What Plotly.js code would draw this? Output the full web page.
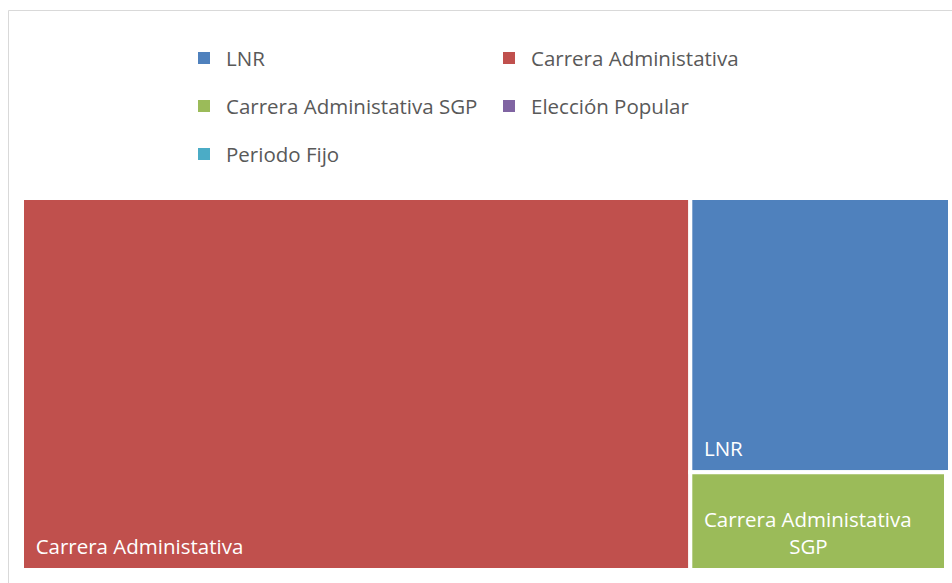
<!DOCTYPE html>
<html>
<head>
<meta charset="utf-8">
<script src="https://cdn.plot.ly/plotly-3.0.1.min.js"></script>
<style>html,body{margin:0;padding:0;background:#fff;}#chart{width:952px;height:583px;}</style>
</head>
<body>
<div id="chart"></div>
<script>
// Data (relative sizes of tiles)
const categories = ["LNR", "Carrera Administativa", "Carrera Administativa SGP", "Elección Popular", "Periodo Fijo"];
const values = [558, 1948, 196, 2, 1];
const colors = ["#4F81BD", "#C0504D", "#9BBB59", "#8064A2", "#4BACC6"];

const W = 952, H = 583;
const FONT = "Open Sans, Noto Sans, sans-serif";
const FS = 20.5;
const NB = "\u00A0";

// Tile label formatting: left inset and a little extra room at the bottom
function tileText(label) {
  const lead = NB + NB;
  const tail = "<span style='font-size:46px'>" + NB + "</span>";
  if (label === "Carrera Administativa SGP") {
    // wrapped over two lines, second line centred under the first
    return lead + "Carrera Administativa<br>" + lead + NB.repeat(16) + "SGP" + tail;
  }
  return lead + label + tail;
}

const trace = {
  type: "treemap",
  labels: categories,
  parents: categories.map(() => ""),
  values: values,
  text: categories.map(tileText),
  textinfo: "text",
  textposition: "bottom left",
  branchvalues: "total",
  sort: true,
  marker: { colors: colors, line: { color: "#ffffff", width: 4 }, pad: { t: 0, l: 0, r: 0, b: 0 } },
  insidetextfont: { family: FONT, size: FS, color: "#ffffff" },
  pathbar: { visible: false },
  tiling: { packing: "squarify", pad: 0 },
  hoverinfo: "skip",
  domain: { x: [22 / W, 950 / W], y: [13 / H, 385 / H] }
};

// Legend drawn as shapes + annotations (two columns, three rows)
const legX = [198, 503];
const legY = [58, 106, 154];
const shapes = [{
  type: "rect", xref: "paper", yref: "paper",
  x0: 8.5 / W, x1: 1.02, y0: -0.02, y1: 1 - 10.5 / H,
  line: { color: "#d9d9d9", width: 1 }, fillcolor: "rgba(0,0,0,0)"
}];
const annotations = [];
categories.forEach((c, i) => {
  const col = i % 2, row = Math.floor(i / 2);
  const x = legX[col], y = legY[row];
  shapes.push({
    type: "rect", xref: "paper", yref: "paper",
    x0: x / W, x1: (x + 12) / W, y0: 1 - (y + 6) / H, y1: 1 - (y - 6) / H,
    line: { width: 0 }, fillcolor: colors[i]
  });
  annotations.push({
    xref: "paper", yref: "paper", x: (x + 26) / W, y: 1 - y / H,
    xanchor: "left", yanchor: "middle", showarrow: false,
    text: c, font: { family: FONT, size: FS, color: "#595959" }
  });
});

const layout = {
  width: W, height: H,
  margin: { l: 0, r: 0, t: 0, b: 0 },
  paper_bgcolor: "#ffffff",
  showlegend: false,
  shapes: shapes,
  annotations: annotations
};

Plotly.newPlot("chart", [trace], layout, { displayModeBar: false, staticPlot: true });
</script>
</body>
</html>
